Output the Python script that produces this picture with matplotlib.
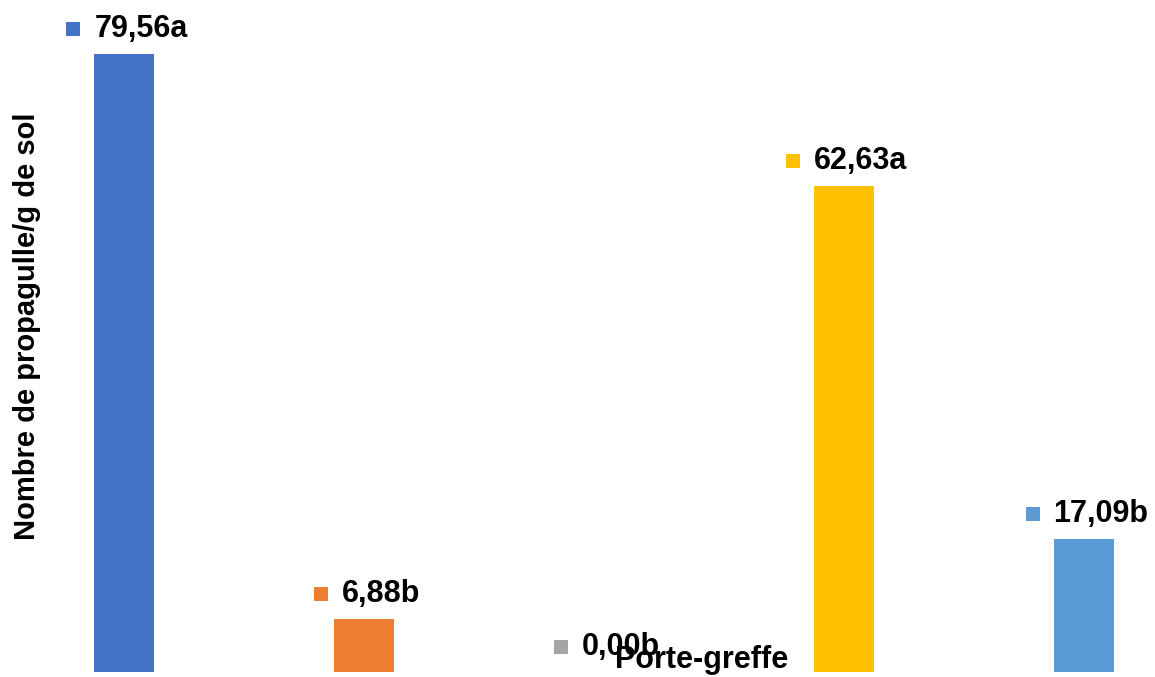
import matplotlib
matplotlib.use("Agg")
import matplotlib.pyplot as plt
from matplotlib.offsetbox import HPacker, DrawingArea, TextArea, AnnotationBbox
from matplotlib.patches import Rectangle

categories = ["A", "B", "C", "D", "E"]
values = [79.56, 6.88, 0.00, 62.63, 17.09]
letters = ["a", "b", "b", "a", "b"]
colors = ["#4472C4", "#ED7D31", "#A5A5A5", "#FFC000", "#5B9BD5"]
ylabel = "Nombre de propagulle/g de sol"
xlabel = "Porte-greffe"

W, H, DPI = 1155, 677, 100
fig = plt.figure(figsize=(W / DPI, H / DPI), dpi=DPI)
ax = fig.add_axes([0, 0, 1, 1])
x = list(range(len(categories)))
ax.bar(x, values, width=0.25, color=colors, zorder=2)

px_per_unit = 618 / 79.56
ax.set_xlim(-124 / 240, (W - 124) / 240)
ax.set_ylim(-5 / px_per_unit, 672 / px_per_unit)
ax.axis("off")

font = dict(fontsize=22, fontweight="bold", family=["Liberation Sans", "DejaVu Sans"], color="black")
pt = 72 / DPI
for xi, v, l, c in zip(x, values, letters, colors):
    da = DrawingArea(14 * pt, 14 * pt, 0, 0)
    da.add_artist(Rectangle((0, 0), 14 * pt, 14 * pt, facecolor=c, edgecolor="none"))
    ta = TextArea(f"{v:.2f}".replace(".", ",") + l, textprops=font)
    pack = HPacker(children=[da, ta], align="center", pad=0, sep=14 * pt)
    ab = AnnotationBbox(pack, (xi, v), xybox=(3, 25), xycoords="data",
                        boxcoords="offset pixels", box_alignment=(0.5, 0.5),
                        frameon=False, pad=0)
    ax.add_artist(ab)

fig.text(27 / W, (H - 326) / H, ylabel, rotation=90, ha="center", va="center",
         fontsize=21, fontweight="bold", family=["Liberation Sans", "DejaVu Sans"])
fig.text(702 / W, 9 / H, xlabel, ha="center", va="baseline",
         fontsize=22, fontweight="bold", family=["Liberation Sans", "DejaVu Sans"], zorder=10)

fig.savefig("out.png", dpi=DPI, facecolor="white")
